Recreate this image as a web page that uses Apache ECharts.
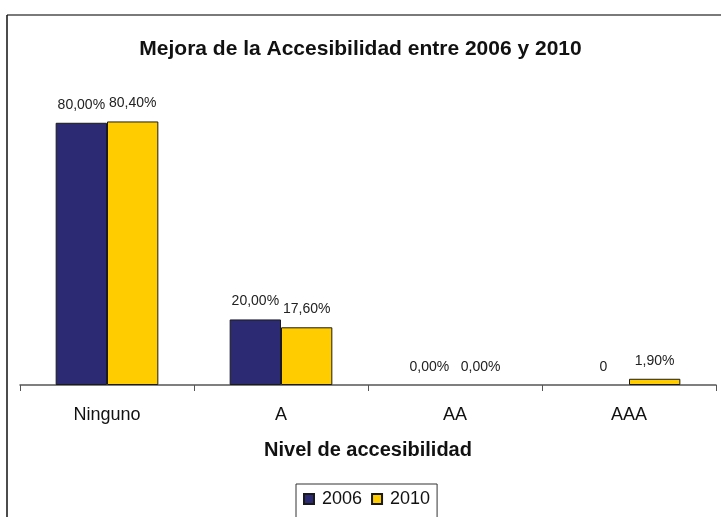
<!DOCTYPE html>
<html>
<head>
<meta charset="utf-8">
<script src="https://cdn.jsdelivr.net/npm/echarts@6/dist/echarts.min.js"></script>
<style>html,body{margin:0;padding:0;background:#fff;}#c{width:721px;height:517px;}</style>
</head>
<body>
<div id="c"></div>
<script>
const categories = ['Ninguno', 'A', 'AA', 'AAA'];
const seriesNames = ['2006', '2010'];
const values2006 = [80.0, 20.0, 0, 0];
const values2010 = [80.4, 17.6, 0, 1.9];
const labels2006 = ['80,00%', '20,00%', '0,00%', '0'];
const labels2010 = ['80,40%', '17,60%', '0,00%', '1,90%'];

const FONT = '"Liberation Sans", Arial, sans-serif';
const chart = echarts.init(document.getElementById('c'), null, {renderer: 'canvas'});
function mkSeries(name, vals, labs, color) {
  return {
    name: name,
    type: 'bar',
    data: vals.map(v => v === 0 ? {value: v, itemStyle: {borderWidth: 0}} : v),
    barGap: '0%',
    barCategoryGap: '41%',
    itemStyle: {color: color, borderColor: '#1a1a1a', borderWidth: 1},
    label: {
      show: true, position: 'top', distance: 11,
      fontFamily: FONT, fontSize: 14, color: '#222',
      formatter: p => labs[p.dataIndex]
    },
    emphasis: {disabled: true}
  };
}
chart.setOption({
  animation: false,
  textStyle: {fontFamily: FONT},
  title: {
    text: 'Mejora de la Accesibilidad entre 2006 y 2010',
    left: 'center', top: 34,
    textStyle: {fontFamily: FONT, fontSize: 21, fontWeight: 'bold', color: '#111'}
  },
  graphic: [
    {type: 'line', shape: {x1: 7, y1: 15, x2: 721, y2: 15}, style: {stroke: '#7a7a7a', lineWidth: 2}},
    {type: 'line', shape: {x1: 7, y1: 15, x2: 7, y2: 517}, style: {stroke: '#111', lineWidth: 1.5}}
  ],
  legend: {
    data: seriesNames,
    left: 296, top: 484,
    padding: [6, 7, 10, 7],
    borderColor: '#333', borderWidth: 1,
    itemWidth: 10, itemHeight: 10, itemGap: 9,
    icon: 'rect',
    textStyle: {fontFamily: FONT, fontSize: 18, color: '#111', padding: [0, 0, 0, 3]}
  },
  grid: {left: 20, right: 5, top: 90, bottom: 132, containLabel: false},
  xAxis: {
    type: 'category', data: categories,
    axisLine: {lineStyle: {color: '#555', width: 1.5}},
    axisTick: {show: true, length: 6, lineStyle: {color: '#555'}},
    axisLabel: {fontFamily: FONT, fontSize: 18, color: '#111', margin: 21},
    name: 'Nivel de accesibilidad', nameLocation: 'middle', nameGap: 55,
    nameTextStyle: {fontFamily: FONT, fontSize: 20, fontWeight: 'bold', color: '#111'}
  },
  yAxis: {type: 'value', min: 0, max: 90, show: false, splitLine: {show: false}},
  series: [
    mkSeries(seriesNames[0], values2006, labels2006, '#2B2A72'),
    mkSeries(seriesNames[1], values2010, labels2010, '#FFCC00')
  ]
});
</script>
</body>
</html>
